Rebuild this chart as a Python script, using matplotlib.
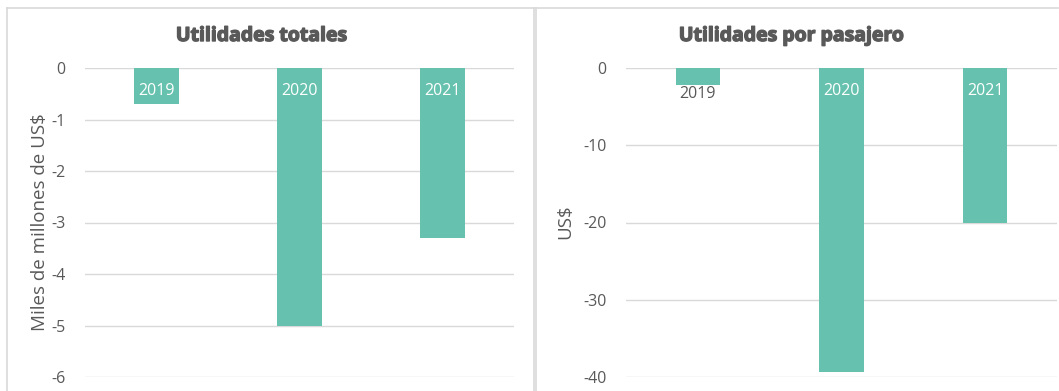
import matplotlib
matplotlib.use("Agg")
import matplotlib.pyplot as plt
import matplotlib.patheffects as pe

years = ["2019", "2020", "2021"]
total_profit = [-0.7, -5.0, -3.3]          # miles de millones de US$
profit_per_pax = [-2.2, -39.4, -20.0]      # US$

left_title = "Utilidades totales"
right_title = "Utilidades por pasajero"
left_ylabel = "Miles de millones de US$"
right_ylabel = "US$"
left_ticks = [0, -1, -2, -3, -4, -5, -6]
right_ticks = [0, -10, -20, -30, -40]

BAR = "#66C2AE"
TXT = "#595959"
GRID = "#D9D9D9"
FONT = "Open Sans"

W, H = 1059, 391
fig = plt.figure(figsize=(W / 100, H / 100), dpi=100)

def fx(px):
    return px / W

def fy(py):
    return 1 - py / H

# panel borders
for (x0, x1) in [(6.5, 533.5), (536, 1058)]:
    fig.add_artist(plt.Line2D([fx(x0), fx(x1)], [fy(8), fy(8)], color=GRID, lw=1.2))
fig.add_artist(plt.Line2D([fx(6.5), fx(6.5)], [fy(8), fy(391)], color=GRID, lw=1.2))
fig.add_artist(plt.Line2D([fx(533.5), fx(533.5)], [fy(8), fy(391)], color=GRID, lw=1.2))
fig.add_artist(plt.Line2D([fx(536), fx(536)], [fy(8), fy(391)], color=GRID, lw=1.2))

def make_axes(x0, x1, vals, ticks, ylo, title, ylabel, ylabel_x, title_x, label_below):
    ax = fig.add_axes([fx(x0), fy(377), fx(x1 - x0), fy(68) - fy(377)])
    ax.set_xlim(-0.5, 2.5)
    ax.set_ylim(ylo, 0)
    ax.bar(range(len(vals)), vals, width=0.31, color=BAR, zorder=3)
    ax.set_yticks(ticks)
    ax.set_yticklabels([str(t) for t in ticks], fontsize=11.5, color=TXT, family=FONT)
    ax.tick_params(axis="y", length=0, pad=14)
    ax.set_xticks([])
    for s in ax.spines.values():
        s.set_visible(False)
    ax.grid(axis="y", color=GRID, lw=1.0, zorder=0)
    for i, (v, y) in enumerate(zip(vals, years)):
        if label_below[i]:
            ax.annotate(y, (i, v), xytext=(0, -1), textcoords="offset points",
                        ha="center", va="top", fontsize=11.5, color=TXT, family=FONT)
        else:
            ax.annotate(y, (i, 0), xytext=(0, -10.5), textcoords="offset points",
                        ha="center", va="top", fontsize=11.5, color="white", family=FONT)
    fig.text(fx(title_x), fy(36), title, ha="center", va="center", fontsize=14,
             fontweight="bold", color=TXT, family=FONT,
             path_effects=[pe.withStroke(linewidth=1.0, foreground=TXT)])
    fig.text(fx(ylabel_x), fy(222), ylabel, ha="center", va="center", rotation=90,
             fontsize=13.5, color=TXT, family=FONT)
    return ax

make_axes(85, 514, total_profit, left_ticks, -6, left_title, left_ylabel, 40, 262,
          [False, False, False])
make_axes(626, 1057, profit_per_pax, right_ticks, -40, right_title, right_ylabel, 565, 792,
          [True, False, False])

fig.savefig("out.png", dpi=100, facecolor="white")
